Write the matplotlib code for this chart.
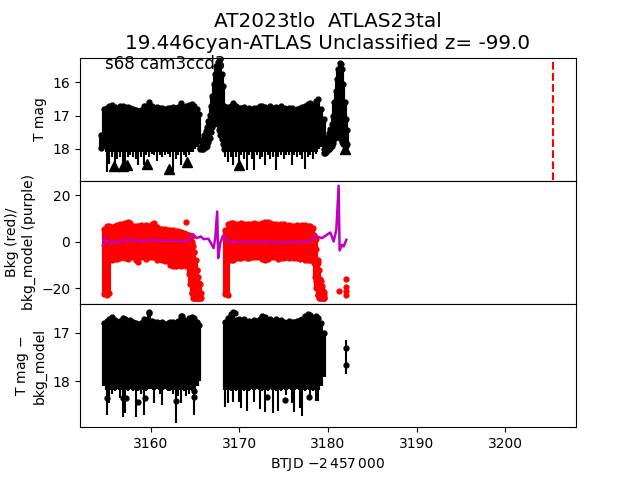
import matplotlib
matplotlib.use('Agg')
import matplotlib.pyplot as plt

# times of the columns in the two orbits
t1 = [3154.7, 3155.0, 3155.3, 3155.6, 3155.9, 3156.2, 3156.5, 3156.8, 3157.1, 3157.4, 3157.7, 3158.0,
      3158.3, 3158.6, 3158.9, 3159.2, 3159.5, 3159.8, 3160.1, 3160.4, 3160.7, 3161.0, 3161.3, 3161.6,
      3161.9, 3162.2, 3162.5, 3162.8, 3163.1, 3163.4, 3163.7, 3164.0, 3164.3, 3164.6, 3164.9, 3165.2, 3165.4]
t2 = [3168.4, 3168.7, 3169.0, 3169.3, 3169.6, 3169.9, 3170.2, 3170.5, 3170.8, 3171.1, 3171.4, 3171.7,
      3172.0, 3172.3, 3172.6, 3172.9, 3173.2, 3173.5, 3173.8, 3174.1, 3174.4, 3174.7, 3175.0, 3175.3,
      3175.6, 3175.9, 3176.2, 3176.5, 3176.8, 3177.1, 3177.4, 3177.7, 3178.0, 3178.3, 3178.6, 3178.9, 3179.2, 3179.5]

# T mag panel: upper and lower edges of the points
mag_hi1 = [16.8, 16.78, 16.72, 16.68, 16.75, 16.78, 16.7, 16.72, 16.75, 16.74, 16.78, 16.8,
           16.82, 16.85, 16.82, 16.7, 16.72, 16.6, 16.72, 16.76, 16.74, 16.78, 16.76, 16.8,
           16.78, 16.76, 16.74, 16.78, 16.75, 16.62, 16.76, 16.72, 16.68, 16.66, 16.7, 16.8, 16.95]
mag_lo1 = [18.0, 18.69, 18.45, 18.25, 18.55, 18.3, 18.25, 18.5, 18.45, 18.25, 18.2, 18.25,
           18.3, 18.5, 18.25, 18.5, 18.2, 18.25, 18.15, 18.2, 18.38, 18.2, 18.25, 18.2,
           18.15, 18.25, 18.75, 18.3, 18.2, 18.48, 18.2, 18.25, 18.2, 18.1, 18.0, 17.95, 17.85]
mag_hi2 = [16.85, 16.75, 16.72, 16.62, 16.72, 16.78, 16.76, 16.75, 16.8, 16.78, 16.82, 16.76,
           16.78, 16.7, 16.72, 16.74, 16.78, 16.72, 16.76, 16.74, 16.78, 16.72, 16.76, 16.8,
           16.78, 16.76, 16.82, 16.8, 16.78, 16.74, 16.7, 16.66, 16.62, 16.68, 16.55, 16.5, 16.8, 17.1]
mag_lo2 = [18.25, 18.4, 18.25, 18.5, 18.25, 18.5, 18.2, 18.3, 18.65, 18.2, 18.3, 18.65,
           18.2, 18.3, 18.25, 18.5, 18.2, 18.3, 18.25, 18.65, 18.25, 18.2, 18.3, 18.2,
           18.2, 18.5, 18.2, 18.25, 18.2, 18.3, 18.6, 18.25, 18.2, 18.3, 18.15, 18.0, 17.95, 17.95]
# rise and fall of the two bright stretches, plus the bulge on the left edge
t_flare = [3154.4, 3165.6, 3165.75, 3165.9, 3166.05, 3166.2, 3166.35, 3166.5, 3166.65, 3166.8, 3166.95, 3167.1,
           3167.25, 3167.4, 3167.55, 3167.7, 3167.85, 3168.0, 3168.15, 3168.3,
           3179.5, 3179.65, 3179.8, 3179.95, 3180.1, 3180.25, 3180.4, 3180.55, 3180.7, 3180.85, 3181.0,
           3181.15, 3181.3, 3181.45, 3181.6, 3181.75, 3181.9, 3182.05, 3182.2]
flare_hi = [17.6, 17.98, 17.85, 17.72, 17.6, 17.48, 17.35, 17.15, 16.98, 16.7, 16.4, 16.05,
            15.75, 15.5, 15.38, 15.35, 15.5, 15.75, 16.1, 16.7,
            18.0, 17.88, 17.78, 17.65, 17.52, 17.4, 17.25, 17.0, 16.6, 16.25, 15.9,
            15.6, 15.4, 15.45, 15.6, 16.05, 16.6, 17.1, 17.45]
flare_lo = [17.98, 18.02, 18.02, 18.0, 17.98, 17.95, 17.92, 17.8, 17.68, 17.5, 17.35, 17.25,
            17.2, 17.17, 17.25, 17.45, 17.6, 17.7, 17.85, 18.0,
            18.12, 18.12, 18.1, 18.05, 18.0, 17.98, 17.93, 17.82, 17.72, 17.66, 17.65,
            17.65, 17.65, 17.72, 17.8, 17.85, 17.9, 17.92, 17.85]
t_limit = [3155.8, 3156.9, 3157.28, 3159.62, 3162.1, 3164.06, 3170.0, 3181.95]
mag_limit = [18.52, 18.52, 18.5, 18.45, 18.6, 18.4, 18.5, 18.0]

# background panel: red edges and purple model
bkg_hi1 = [5.5, 6.6, 6.8, 6.5, 6.8, 7.2, 7.5, 7.8, 8.2, 8.7, 8.0, 7.0,
           6.8, 7.0, 7.2, 6.8, 7.2, 7.0, 7.8, 8.2, 6.2, 5.5, 5.6, 5.4,
           5.2, 5.0, 5.0, 4.8, 4.6, 4.2, 4.0, 3.4, 2.8, 2.3, -4.2, -12.0, -17.8]
bkg_lo1 = [-22.5, -23.0, -22.0, -7.6, -7.2, -7.4, -7.0, -6.5, -6.8, -7.2, -6.5, -6.4,
           -7.6, -8.6, -6.5, -6.6, -7.2, -6.4, -6.6, -6.6, -7.6, -7.4, -7.8, -8.2,
           -8.4, -9.8, -10.2, -10.4, -9.8, -10.2, -9.6, -10.5, -14.0, -22.0, -24.0, -24.2, -24.2]
bkg_hi2 = [5.0, 7.5, 8.0, 8.0, 7.8, 7.8, 8.0, 7.8, 7.8, 7.6, 7.8, 8.0,
           7.8, 7.6, 8.0, 8.4, 8.5, 8.0, 7.6, 7.8, 7.2, 7.6, 7.5, 7.0,
           7.2, 6.6, 7.0, 7.2, 6.8, 7.2, 7.4, 7.0, 6.6, 6.0, 1.0, -9.0, -17.0, -21.5]
bkg_lo2 = [-22.5, -23.0, -7.6, -7.6, -7.0, -7.0, -6.8, -6.6, -7.0, -6.8, -6.6, -6.6,
           -6.4, -6.6, -7.2, -7.8, -7.4, -6.6, -6.4, -6.6, -7.2, -6.8, -7.0, -6.6,
           -7.0, -6.6, -7.0, -6.8, -7.4, -7.0, -7.8, -8.0, -8.0, -8.0, -17.0, -23.0, -24.2, -24.2]
# falling ends of the orbits in the background panel
t_ramp = [3164.44, 3164.6, 3164.75, 3164.9, 3165.05, 3165.2, 3165.35, 3165.5, 3165.65,
          3178.4, 3178.55, 3178.7, 3178.85, 3179.0, 3179.15, 3179.3, 3179.45, 3179.6]
ramp_hi = [2.5, 0.0, -2.0, -4.2, -8.0, -12.0, -15.0, -18.0, -22.0,
           3.0, 1.0, -3.0, -8.0, -12.0, -16.0, -19.0, -21.0, -23.0]
ramp_lo = [-18.0, -22.0, -24.0, -24.2, -24.2, -24.2, -24.2, -24.2, -24.2,
           -9.0, -15.0, -20.0, -23.0, -24.2, -24.2, -24.2, -24.2, -24.2]
t_bkg_dots = [3164.0, 3181.2, 3182.07, 3182.07, 3182.07, 3182.07]
bkg_dots = [8.4, -21.0, -16.0, -19.5, -21.0, -23.0]
t_model = [3154.57, 3154.83, 3155.21, 3155.78, 3156.34, 3156.91, 3157.66, 3158.6, 3159.54, 3160.5, 3161.43,
           3162.56, 3163.5, 3164.25, 3164.74, 3165.19, 3165.64, 3165.95, 3166.51, 3167.08, 3167.27, 3167.49,
           3167.6, 3167.83, 3168.13, 3168.39, 3168.77, 3169.34, 3170.09, 3170.84, 3171.97, 3173.1, 3174.6,
           3176.1, 3178.0, 3178.56, 3179.32, 3180.26, 3180.64, 3180.94, 3181.2, 3181.31, 3181.58, 3181.77, 3182.07]
bkg_model = [-1.57, 1.58, -0.28, -0.57, 0.0, 0.57, 0.86, 0.29, 0.57, 0.72, 0.43,
             0.43, 0.29, 0.43, 3.3, 1.58, 2.3, 1.15, 1.3, -2.7, 1.58, 13.05,
             -7.0, -0.57, 2.58, 2.3, 0.15, -0.14, 0.0, 0.15, -0.14, 0.15, -0.28,
             -0.14, 0.15, 2.58, 1.58, 4.0, 0.15, 5.16, 24.1, -3.7, -1.29, -2.0, 0.86]

# corrected magnitude panel
corr_hi1 = [16.8, 16.76, 16.72, 16.68, 16.74, 16.78, 16.76, 16.7, 16.72, 16.76, 16.74, 16.78,
            16.8, 16.84, 16.8, 16.72, 16.74, 16.58, 16.76, 16.78, 16.78, 16.8, 16.78, 16.82,
            16.8, 16.78, 16.78, 16.8, 16.76, 16.66, 16.74, 16.78, 16.7, 16.68, 16.7, 16.78, 16.85]
corr_lo1 = [18.1, 18.69, 18.45, 18.25, 18.2, 18.15, 18.35, 18.74, 18.64, 18.2, 18.15, 18.2,
            18.74, 18.2, 18.25, 18.69, 18.2, 18.15, 18.15, 18.45, 18.15, 18.25, 18.48, 18.15,
            18.2, 18.2, 18.25, 18.85, 18.3, 18.45, 18.2, 18.3, 18.25, 18.2, 18.69, 18.1, 18.0]
corr_hi2 = [16.78, 16.7, 16.62, 16.58, 16.74, 16.72, 16.76, 16.72, 16.78, 16.76, 16.8, 16.74,
            16.76, 16.72, 16.66, 16.68, 16.76, 16.72, 16.75, 16.72, 16.76, 16.74, 16.78, 16.8,
            16.76, 16.78, 16.78, 16.76, 16.74, 16.72, 16.66, 16.62, 16.64, 16.7, 16.65, 16.7, 16.8, 17.0]
corr_lo2 = [18.52, 18.45, 18.2, 18.42, 18.2, 18.42, 18.55, 18.2, 18.6, 18.2, 18.15, 18.42,
            18.15, 18.56, 18.2, 18.62, 18.2, 18.15, 18.65, 18.2, 18.6, 18.2, 18.15, 18.28,
            18.15, 18.45, 18.62, 18.15, 18.55, 18.7, 18.2, 18.15, 18.3, 18.2, 18.4, 18.4, 18.1, 17.9]
t_corr_dots = [3155.1, 3156.9, 3157.2, 3158.5, 3159.35, 3159.8, 3163.5, 3162.8, 3164.9, 3164.85,
               3168.96, 3169.5, 3173.1, 3175.2, 3177.9]
corr_dots = [18.35, 18.35, 18.35, 18.42, 18.35, 16.6, 16.66, 18.4, 18.33, 18.2,
             16.7, 16.6, 18.32, 18.38, 18.33]
t_isolated = [3182.07, 3182.07]
corr_isolated = [17.31, 17.66]
corr_isolated_err = [0.17, 0.18]

t_alert = 3205.35


def columns(ax, t, hi, lo, color='k', body=None, both=False):
    # thick part is the solid mass, thin part the single long error bars below it
    if body is None:
        body_lo = lo
    else:
        body_lo = [min(v, body) for v in lo]
        ax.vlines(t, hi, lo, color=color, lw=1.5)
    ax.vlines(t, hi, body_lo, color=color, lw=3.0)
    ax.plot(t, hi, '.', color=color, ms=7)
    if both:
        ax.plot(t, lo, '.', color=color, ms=7)


fig, axs = plt.subplots(3, 1, sharex=True)
fig.subplots_adjust(hspace=0)

ax = axs[0]
ax.text(3154.8, 15.6, 's68 cam3ccd3', fontsize=12)
columns(ax, t1, mag_hi1, mag_lo1, body=18.1)
columns(ax, t2, mag_hi2, mag_lo2, body=18.1)
columns(ax, t_flare, flare_hi, flare_lo, both=True)
ax.plot(t_limit, mag_limit, 'k^', ms=7)
ax.vlines(t_alert, 15.37, 19.0, color='r', linestyles='--', lw=1.5)
ax.set_ylim(18.97, 15.25)
ax.set_yticks([16, 17, 18])
ax.set_ylabel('T mag')
ax.set_title('AT2023tlo  ATLAS23tal\n19.446cyan-ATLAS Unclassified z= -99.0', fontsize=14.4)

ax = axs[1]
columns(ax, t1, bkg_hi1, bkg_lo1, 'r', both=True)
columns(ax, t2, bkg_hi2, bkg_lo2, 'r', both=True)
columns(ax, t_ramp, ramp_hi, ramp_lo, 'r', both=True)
ax.plot(t_bkg_dots, bkg_dots, 'r.', ms=7)
ax.plot(t_model, bkg_model, color='#bf00bf', lw=1.8)
ax.set_ylim(-26.7, 26.2)
ax.set_yticks([-20, 0, 20])
ax.set_ylabel('Bkg (red)/\nbkg_model (purple)')

ax = axs[2]
columns(ax, t1, corr_hi1, corr_lo1, body=18.18)
columns(ax, t2, corr_hi2, corr_lo2, body=18.18)
ax.plot(t_corr_dots, corr_dots, 'k.', ms=7)
ax.errorbar(t_isolated, corr_isolated, yerr=corr_isolated_err, fmt='k.', ms=7, elinewidth=1.5)
ax.set_ylim(18.94, 16.41)
ax.set_yticks([17, 18])
ax.set_ylabel('T mag $-$\nbkg_model')
ax.set_xlim(3152.0, 3208.0)
ax.set_xticks([3160, 3170, 3180, 3190, 3200])
ax.set_xlabel('BTJD $-2\\,457\\,000$')

fig.savefig('out.png', dpi=100)
plt.close()
